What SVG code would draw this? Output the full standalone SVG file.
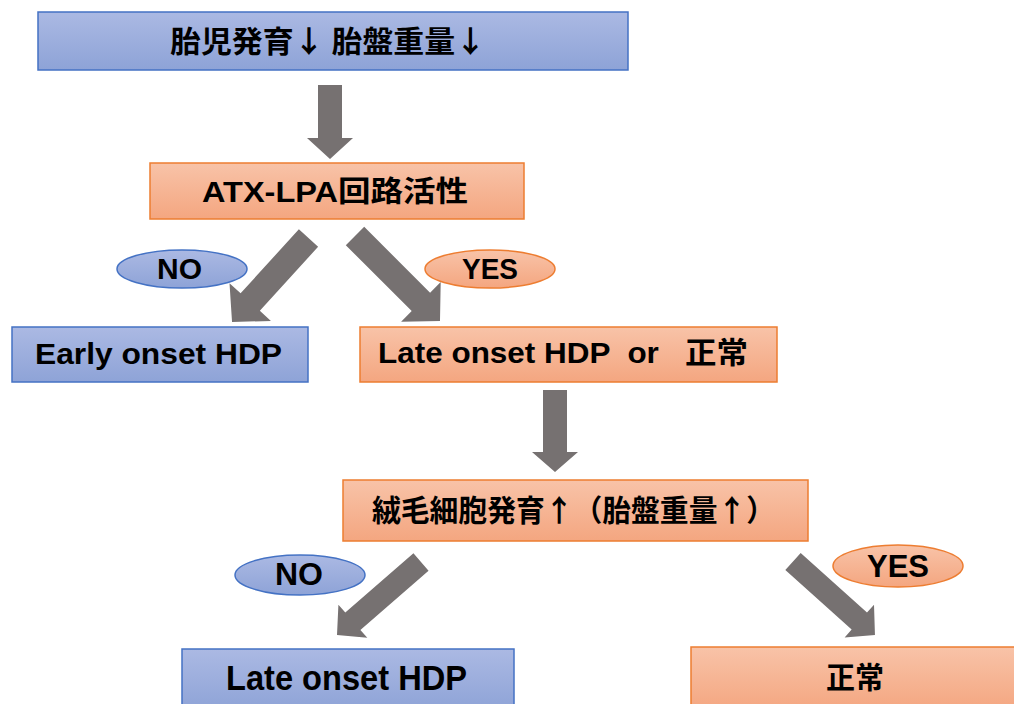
<svg xmlns="http://www.w3.org/2000/svg" width="1014" height="704" viewBox="0 0 1014 704">
<defs>
<linearGradient id="gBlue" x1="0" y1="0" x2="0" y2="1">
<stop offset="0" stop-color="#abb9e3"/>
<stop offset="1" stop-color="#8ea3d7"/>
</linearGradient>
<linearGradient id="gOrange" x1="0" y1="0" x2="0" y2="1">
<stop offset="0" stop-color="#f8c3a8"/>
<stop offset="1" stop-color="#f4a680"/>
</linearGradient>
<style>
.blue{fill:url(#gBlue);stroke:#4472c4;stroke-width:1.5}
.orange{fill:url(#gOrange);stroke:#ed7d31;stroke-width:1.5}
.arrow{fill:#767171}
.t{font-family:"Liberation Sans","Noto Sans CJK JP",sans-serif;font-weight:bold;fill:#000;font-size:29px}
.j{font-family:"Noto Sans CJK JP","Liberation Sans",sans-serif;font-weight:bold;fill:#000;font-size:30px}
.pre{white-space:pre}
</style>
</defs>
<rect width="1014" height="704" fill="#ffffff"/>
<g id="connectors">
<path class="arrow" d="M318,85 H342 V138 H353 L330,159 L307,138 H318 Z"/>
<path class="arrow" d="M543,390 H567 V452 H578 L555,472 L532,452 H543 Z"/>
<path class="arrow" transform="translate(308.5,238) rotate(132.3)" d="M0,-13 H86.6 V-28 L113.6,0 L86.6,28 V13 H0 Z"/>
<path class="arrow" transform="translate(355,236) rotate(45)" d="M0,-13 H93.2 V-28 L120.2,0 L93.2,28 V13 H0 Z"/>
<path class="arrow" transform="translate(421,562) rotate(139)" d="M0,-11.5 H90.3 V-22 L111.3,0 L90.3,22 V11.5 H0 Z"/>
<path class="arrow" transform="translate(793,561.5) rotate(41.9)" d="M0,-11.5 H89.1 V-22 L110.1,0 L89.1,22 V11.5 H0 Z"/>
</g>
<g id="node-top">
<rect class="blue" x="38" y="12" width="590" height="58"/>
<text class="j" x="170" y="52" textLength="316" lengthAdjust="spacingAndGlyphs">胎児発育↓ 胎盤重量↓</text>
</g>
<g id="node-atx">
<rect class="orange" x="150" y="163" width="374" height="56"/>
<text class="t" x="202" y="202" textLength="266" lengthAdjust="spacingAndGlyphs">ATX-LPA回路活性</text>
</g>
<g id="label-no-1">
<ellipse class="blue" cx="182" cy="269" rx="65" ry="19"/>
<text class="t" x="157" y="279" textLength="45" lengthAdjust="spacingAndGlyphs">NO</text>
</g>
<g id="label-yes-1">
<ellipse class="orange" cx="490" cy="269" rx="65" ry="19"/>
<text class="t" x="462" y="279" textLength="56" lengthAdjust="spacingAndGlyphs">YES</text>
</g>
<g id="node-early">
<rect class="blue" x="12" y="327" width="296" height="55"/>
<text class="t" x="35" y="364" style="font-size:30px" textLength="247" lengthAdjust="spacingAndGlyphs">Early onset HDP</text>
</g>
<g id="node-late-or">
<rect class="orange" x="360" y="327" width="417" height="55"/>
<text class="t pre" xml:space="preserve" x="378" y="363" style="font-size:30px" textLength="370" lengthAdjust="spacingAndGlyphs">Late onset HDP  or   正常</text>
</g>
<g id="node-villi">
<rect class="orange" x="343" y="480" width="465" height="61"/>
<text class="j" x="372" y="521" textLength="403" lengthAdjust="spacingAndGlyphs">絨毛細胞発育↑（胎盤重量↑）</text>
</g>
<g id="label-no-2">
<ellipse class="blue" cx="300" cy="575" rx="65" ry="20"/>
<text class="t" x="275" y="585" style="font-size:31px" textLength="48" lengthAdjust="spacingAndGlyphs">NO</text>
</g>
<g id="label-yes-2">
<ellipse class="orange" cx="898" cy="566" rx="65" ry="21"/>
<text class="t" x="867" y="577" style="font-size:32px" textLength="62" lengthAdjust="spacingAndGlyphs">YES</text>
</g>
<g id="node-late">
<rect class="blue" x="182" y="649" width="332" height="62"/>
<text class="t" x="226" y="690" style="font-size:35px" textLength="241" lengthAdjust="spacingAndGlyphs">Late onset HDP</text>
</g>
<g id="node-normal">
<rect class="orange" x="691" y="647" width="330" height="64"/>
<text class="j" x="826" y="688" style="font-size:30px" textLength="58" lengthAdjust="spacingAndGlyphs">正常</text>
</g>
</svg>
